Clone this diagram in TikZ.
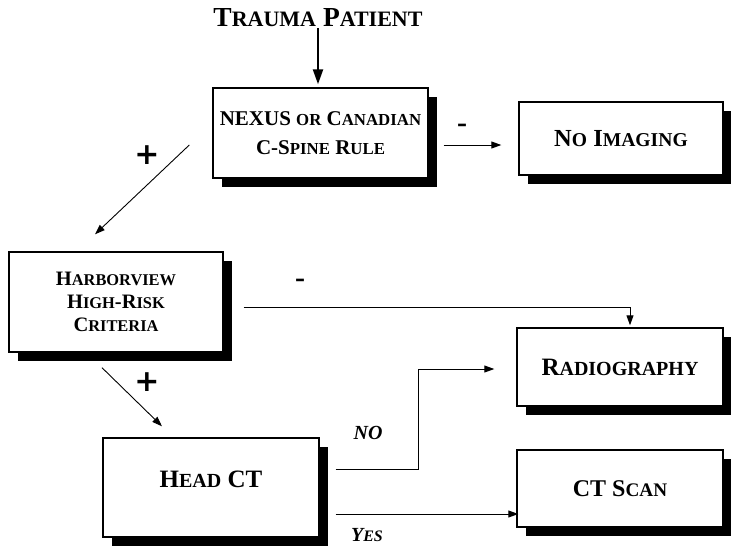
\documentclass[tikz,border=0pt]{standalone}
\usepackage{fontspec}
\usepackage{graphicx}
\setmainfont{Liberation Serif}
\newfontfamily\plusfont{DejaVu Sans}
\usetikzlibrary{arrows.meta,shadows}
\newcommand\sca[1]{\scalebox{0.8}{#1}}
\begin{document}
\begin{tikzpicture}[x=1pt,y=-1pt,
  box/.style={draw,line width=1.4pt,fill=white,inner sep=0pt,align=center,
    drop shadow={shadow xshift=9pt,shadow yshift=-9pt,fill=black,opacity=1}},
  arr/.style={line width=0.9pt,-{Triangle[length=10pt,width=7pt]}},
  pm/.style={font=\plusfont\bfseries\fontsize{30}{30}\selectfont,inner sep=0pt},
  mn/.style={font=\bfseries\fontsize{30}{30}\selectfont,inner sep=0pt},
  yn/.style={font=\bfseries\itshape\fontsize{20}{20}\selectfont,inner sep=0pt}]
\useasboundingbox (0,0) rectangle (731,547);
\fill[white] (0,0) rectangle (731,547);

\node[font=\bfseries\fontsize{27.5}{27.5}\selectfont,inner sep=1pt] (trauma) at (318,18) {T\sca{RAUMA} P\sca{ATIENT}};

\node[box,minimum width=215pt,minimum height=90pt,font=\bfseries\fontsize{21}{29}\selectfont] (nexus) at (320.5,133)
  {NEXUS \sca{OR} C\sca{ANADIAN}\\C-S\sca{PINE} R\sca{ULE}};
\node[box,minimum width=204pt,minimum height=73pt,font=\bfseries\fontsize{24.5}{24.5}\selectfont] (noimg) at (621,138.5)
  {N\sca{O} I\sca{MAGING}};
\node[box,minimum width=214pt,minimum height=100pt,font=\bfseries\fontsize{20.5}{23}\selectfont] (harbor) at (116,302)
  {H\sca{ARBORVIEW}\\H\sca{IGH}-R\sca{ISK}\\C\sca{RITERIA}};
\node[box,minimum width=216pt,minimum height=99pt,text height=12pt,text depth=12pt,font=\bfseries\fontsize{25}{25}\selectfont] (headct) at (211,487.5)
  {H\sca{EAD} CT};
\node[box,minimum width=206pt,minimum height=78pt,font=\bfseries\fontsize{25}{25}\selectfont] (radio) at (620,367)
  {R\sca{ADIOGRAPHY}};
\node[box,minimum width=206pt,minimum height=77pt,font=\bfseries\fontsize{24}{24}\selectfont] (ctscan) at (620,488.5)
  {CT S\sca{CAN}};

% connectors
\draw[line width=2.2pt,-{Triangle[length=15pt,width=10pt]},shorten >=3pt] (trauma.south) -- (trauma.south |- nexus.north);
\draw[arr,shorten <=15pt,shorten >=17pt] ([yshift=-12pt]nexus.east) -- ([yshift=-12pt]nexus.east -| noimg.west);
\draw[arr] ([xshift=-23pt,yshift=-12pt]nexus.west) -- ([xshift=-21pt,yshift=17pt]harbor.north);
\draw[arr] ([xshift=20pt,yshift=-5pt]harbor.east) -| ([xshift=10pt,yshift=2pt]radio.north);
\draw[arr] ([xshift=-14pt,yshift=-15pt]harbor.south) -- ([xshift=-49pt,yshift=11pt]headct.north);
\draw[arr] ([xshift=16pt,yshift=18.5pt]headct.east) -- ++(83,0) |- ([xshift=-22pt,yshift=-2pt]radio.west);
\draw[arr,shorten >=14pt] ([xshift=16pt,yshift=-26.5pt]headct.east) -- ([xshift=16pt,yshift=-26.5pt]headct.east -| ctscan.west);

% labels
\node[pm] (p1) at (147,155) {+};
\node[pm] (p2) at (147,382) {+};
\node[mn] (m1) at (462,128) {-};
\node[mn] (m2) at (300,283) {-};
\node[yn] (no) at (368,433) {NO};
\node[yn] (yes) at (367,535) {Y\sca{ES}};
\end{tikzpicture}
\end{document}
